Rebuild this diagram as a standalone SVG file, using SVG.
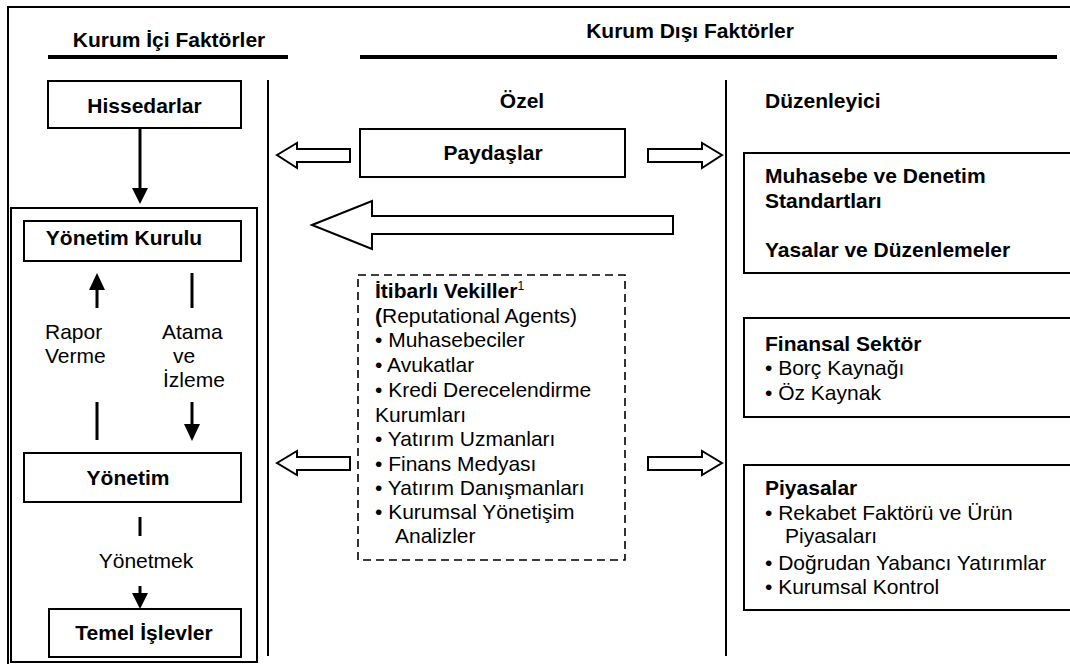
<svg xmlns="http://www.w3.org/2000/svg" width="1070" height="664" viewBox="0 0 1070 664">
  <style>
    text { font-family: "Liberation Sans", Arial, sans-serif; font-size: 21px; fill: #000; }
    .b { font-weight: bold; }
    .c { text-anchor: middle; }
    .box { fill: #fff; stroke: #000; stroke-width: 2; }
    .rule { stroke: #000; stroke-width: 2; fill: none; }
    .bar { stroke: #000; stroke-width: 4; }
    .hollow { fill: #fff; stroke: #000; stroke-width: 2; stroke-linejoin: miter; }
    .line { stroke: #000; stroke-width: 3; fill: none; }
    .head { fill: #000; }
  </style>
  <rect width="1070" height="664" fill="#fff"/>

  <!-- outer frame and section rules -->
  <g id="frame">
    <polyline class="rule" points="8,666 8,7 1072,7"/>
    <line class="bar" x1="48" y1="57" x2="288" y2="57"/>
    <line class="bar" x1="360" y1="57" x2="1057" y2="57"/>
    <line class="rule" x1="268" y1="80" x2="268" y2="656"/>
    <line class="rule" x1="726" y1="80" x2="726" y2="656"/>
    <text class="b c" x="169" y="47">Kurum İçi Faktörler</text>
    <text class="b c" x="690" y="38">Kurum Dışı Faktörler</text>
    <text class="b c" x="522" y="108">Özel</text>
    <text class="b" x="765" y="108">Düzenleyici</text>
  </g>

  <!-- internal factors -->
  <g id="hissedarlar">
    <rect class="box" x="48" y="81" width="193" height="47"/>
    <text class="b c" x="144.5" y="113">Hissedarlar</text>
  </g>
  <g id="yonetim-grubu">
    <rect class="box" x="11" y="208" width="246" height="454"/>
  </g>
  <g id="yonetim-kurulu">
    <rect class="box" x="24" y="221" width="217" height="40"/>
    <text class="b c" x="124" y="245">Yönetim Kurulu</text>
  </g>
  <g id="yonetim">
    <rect class="box" x="24" y="453" width="217" height="49"/>
    <text class="b c" x="128" y="485">Yönetim</text>
  </g>
  <g id="temel-islevler">
    <rect class="box" x="49" y="609" width="192" height="48"/>
    <text class="b c" x="144" y="640">Temel İşlevler</text>
  </g>

  <!-- external factors -->
  <g id="paydaslar">
    <rect class="box" x="360" y="129" width="265" height="48"/>
    <text class="b c" x="493" y="160">Paydaşlar</text>
  </g>
  <g id="itibarli-vekiller">
    <rect x="358" y="275" width="267" height="285" fill="none" stroke="#000" stroke-width="1.6" stroke-dasharray="8,5"/>
    <text class="b" x="375" y="298">İtibarlı Vekiller<tspan font-weight="normal" font-size="12" dy="-8">1</tspan></text>
    <text x="375" y="323"><tspan class="b">(</tspan>Reputational Agents)</text>
    <text x="375" y="347">• Muhasebeciler</text>
    <text x="375" y="372">• Avukatlar</text>
    <text x="375" y="397">• Kredi Derecelendirme</text>
    <text x="375" y="422">Kurumları</text>
    <text x="375" y="446">• Yatırım Uzmanları</text>
    <text x="375" y="471">• Finans Medyası</text>
    <text x="375" y="495">• Yatırım Danışmanları</text>
    <text x="375" y="519">• Kurumsal Yönetişim</text>
    <text x="395" y="543">Analizler</text>
  </g>
  <g id="standartlar">
    <rect class="box" x="744" y="153" width="330" height="120"/>
    <text class="b" x="765" y="183">Muhasebe ve Denetim</text>
    <text class="b" x="765" y="208">Standartları</text>
    <text class="b" x="765" y="257">Yasalar ve Düzenlemeler</text>
  </g>
  <g id="finansal-sektor">
    <rect class="box" x="744" y="318" width="330" height="99"/>
    <text class="b" x="765" y="351">Finansal Sektör</text>
    <text x="765" y="375">• Borç Kaynağı</text>
    <text x="765" y="400">• Öz Kaynak</text>
  </g>
  <g id="piyasalar">
    <rect class="box" x="744" y="465" width="330" height="145"/>
    <text class="b" x="765" y="495">Piyasalar</text>
    <text x="765" y="520">• Rekabet Faktörü ve Ürün</text>
    <text x="785" y="543">Piyasaları</text>
    <text x="765" y="570">• Doğrudan Yabancı Yatırımlar</text>
    <text x="765" y="594">• Kurumsal Kontrol</text>
  </g>

  <!-- connectors -->
  <g id="connectors">
    <!-- Hissedarlar to board group -->
    <line class="line" x1="140" y1="128" x2="140" y2="190"/>
    <polygon class="head" points="132,188 148,188 140,204"/>
    <!-- reporting (up) -->
    <line class="line" x1="97" y1="288" x2="97" y2="308"/>
    <polygon class="head" points="89,290 105,290 97,273"/>
    <line class="line" x1="97" y1="402" x2="97" y2="440"/>
    <text x="45" y="339">Rapor</text>
    <text x="45" y="363">Verme</text>
    <!-- appointing and monitoring (down) -->
    <line class="line" x1="192" y1="273" x2="192" y2="308"/>
    <line class="line" x1="192" y1="402" x2="192" y2="426"/>
    <polygon class="head" points="184,424 200,424 192,441"/>
    <text x="162" y="339">Atama</text>
    <text x="173" y="363">ve</text>
    <text x="163" y="387">İzleme</text>
    <!-- managing -->
    <line class="line" x1="140" y1="517" x2="140" y2="536"/>
    <line class="line" x1="140" y1="586" x2="140" y2="595"/>
    <polygon class="head" points="132,593 148,593 140,609"/>
    <text class="c" x="146" y="568">Yönetmek</text>

    <!-- block arrows -->
    <polygon class="hollow" points="277,155 297,143 297,149 350,149 350,162 297,162 297,168"/>
    <polygon class="hollow" points="722,155 702,143 702,149 648,149 648,162 702,162 702,168"/>
    <polygon class="hollow" points="312,225 372,201 372,216 673,216 673,234 372,234 372,249"/>
    <polygon class="hollow" points="277,463 297,451 297,457 350,457 350,470 297,470 297,475"/>
    <polygon class="hollow" points="722,463 702,451 702,457 648,457 648,470 702,470 702,475"/>
  </g>
</svg>
